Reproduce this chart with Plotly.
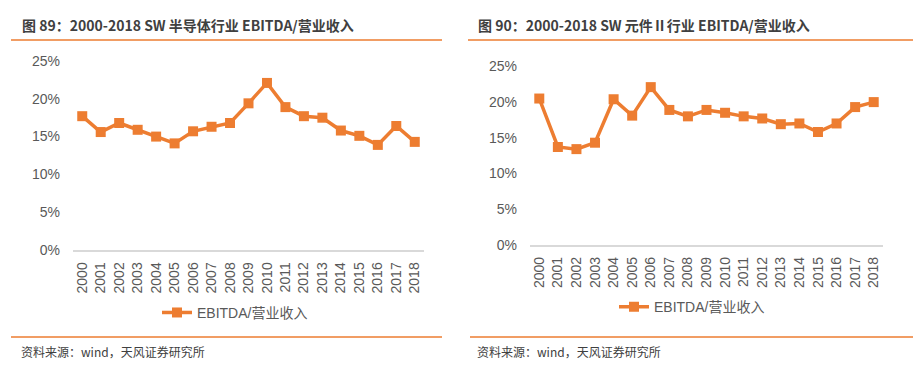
import plotly.graph_objects as go

years = [str(y) for y in range(2000, 2019)]
semi = [17.7, 15.6, 16.8, 15.9, 15.0, 14.1, 15.7, 16.3, 16.8, 19.4, 22.1, 18.9, 17.7, 17.5, 15.8, 15.1, 13.9, 16.4, 14.3]
comp = [20.5, 13.7, 13.4, 14.3, 20.4, 18.1, 22.1, 18.9, 18.0, 18.9, 18.5, 18.0, 17.7, 16.9, 17.0, 15.8, 17.0, 19.3, 20.0]
y_ticks = [0, 5, 10, 15, 20, 25]
y_labels = ["0%", "5%", "10%", "15%", "20%", "25%"]
series_name = "EBITDA/营业收入"
title_left = "图 89：2000-2018 SW 半导体行业 EBITDA/营业收入"
title_right = "图 90：2000-2018 SW 元件Ⅱ行业 EBITDA/营业收入"
source = "资料来源：wind，天风证券研究所"

W, H = 921, 378
OFF = 8  # page body margin
ORANGE = "#ED7D31"
GRAY = "#595959"

def px_x(x):
    return (x - OFF) / W

def px_y(y):
    return 1 - (y - OFF) / H

fig = go.Figure()
fig.add_trace(go.Scatter(x=years, y=semi, mode="lines+markers", name=series_name,
                         line=dict(color=ORANGE, width=3.5),
                         marker=dict(symbol="square", size=10, color=ORANGE),
                         xaxis="x", yaxis="y", legend="legend", cliponaxis=False))
fig.add_trace(go.Scatter(x=years, y=comp, mode="lines+markers", name=series_name,
                         line=dict(color=ORANGE, width=3.5),
                         marker=dict(symbol="square", size=10, color=ORANGE),
                         xaxis="x2", yaxis="y2", legend="legend2", cliponaxis=False))

font_main = "Liberation Sans, Arial, Noto Sans CJK SC, sans-serif"
xcommon = dict(type="category", range=[-0.5, 18.5], showgrid=False, zeroline=False,
               showline=True, linecolor="#D9D9D9", linewidth=1.5,
               tickangle=-90, ticks="outside", ticklen=5, tickcolor="rgba(0,0,0,0)",
               tickfont=dict(family=font_main, size=14, color=GRAY), fixedrange=True)
ycommon = dict(range=[0, 25], tickvals=y_ticks, ticktext=y_labels, showgrid=False,
               zeroline=False, showline=False, ticks="",
               ticklabelstandoff=12,
               tickfont=dict(family=font_main, size=14, color=GRAY), fixedrange=True)

fig.update_layout(
    width=W, height=H, margin=dict(l=0, r=0, t=0, b=0),
    paper_bgcolor="white", plot_bgcolor="white",
    font=dict(family=font_main),
    xaxis=dict(domain=[px_x(73), px_x(424)], anchor="y", **xcommon),
    yaxis=dict(domain=[px_y(252.3), px_y(55)], anchor="x", **ycommon),
    xaxis2=dict(domain=[px_x(530), px_x(883)], anchor="y2", **xcommon),
    yaxis2=dict(domain=[px_y(246.7), px_y(60.7)], anchor="x2", **ycommon),
    legend=dict(x=px_x(235), y=px_y(318), xanchor="center", yanchor="middle",
                orientation="h", bgcolor="rgba(0,0,0,0)",
                font=dict(family="Liberation Sans, Noto Sans CJK SC", size=14, color=GRAY)),
    legend2=dict(x=px_x(692), y=px_y(312), xanchor="center", yanchor="middle",
                 orientation="h", bgcolor="rgba(0,0,0,0)",
                 font=dict(family="Liberation Sans, Noto Sans CJK SC", size=14, color=GRAY)),
    showlegend=True,
)

title_font = dict(family="Noto Sans CJK SC, sans-serif", size=14, color="#404040")
src_font = dict(family="Noto Sans CJK SC, sans-serif", size=12, color="#404040")
fig.add_annotation(text="<b>" + title_left + "</b>", x=px_x(20), y=px_y(17), xref="paper", yref="paper",
                   xanchor="left", yanchor="middle", showarrow=False, font=title_font)
fig.add_annotation(text="<b>" + title_right + "</b>", x=px_x(476), y=px_y(17), xref="paper", yref="paper",
                   xanchor="left", yanchor="middle", showarrow=False, font=title_font)
fig.add_annotation(text=source, x=px_x(19), y=px_y(358), xref="paper", yref="paper",
                   xanchor="left", yanchor="middle", showarrow=False, font=src_font)
fig.add_annotation(text=source, x=px_x(475), y=px_y(358), xref="paper", yref="paper",
                   xanchor="left", yanchor="middle", showarrow=False, font=src_font)

for (x0, x1) in [(11, 442), (468, 913)]:
    fig.add_shape(type="line", xref="paper", yref="paper", x0=px_x(x0), x1=px_x(x1),
                  y0=px_y(33), y1=px_y(33), line=dict(color=ORANGE, width=1.5))
for (x0, x1) in [(11, 442), (470, 918)]:
    fig.add_shape(type="line", xref="paper", yref="paper", x0=px_x(x0), x1=px_x(x1),
                  y0=px_y(343.3), y1=px_y(343.3), line=dict(color=ORANGE, width=1.5))

fig.write_html("out.html")
